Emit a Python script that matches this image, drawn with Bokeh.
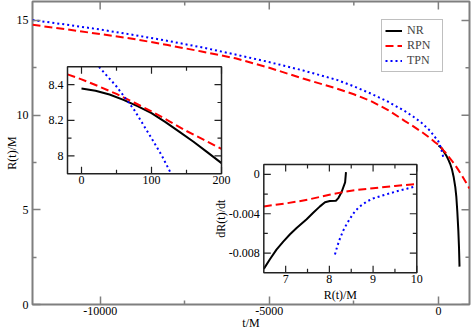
import numpy as np
from bokeh.plotting import figure
from bokeh.models import Range1d, FixedTicker, Legend, LegendItem
from bokeh.embed import file_html
from bokeh.resources import INLINE
from bokeh.core.properties import value

FONT = "Liberation Serif"
FS = "12px"

# ---------------- main panel: R(t)/M versus t/M ----------------
t_nr = [0, 20, 40, 60, 80, 100, 120, 140, 160, 180, 200, 250, 300, 350, 400,
        450, 500, 530, 560, 590, 610, 625]
r_nr = [8.378, 8.366, 8.345, 8.315, 8.28, 8.24, 8.19, 8.135, 8.08, 8.02, 7.96,
        7.81, 7.62, 7.42, 7.15, 6.75, 6.2, 5.7, 4.9, 3.9, 3.0, 2.0]

t_rpn = [-12000, -11000, -10000, -9000, -8000, -7000, -6000, -5000, -4000, -3000,
         -2500, -2000, -1500, -1000, -750, -500, -250, -100, -20, 0, 25, 50, 75,
         100, 125, 150, 175, 200, 300, 400, 500, 600, 700, 800, 920]
r_rpn = [14.77, 14.53, 14.28, 14.02, 13.7, 13.36, 13.0, 12.5, 11.93, 11.4,
         11.1, 10.75, 10.28, 9.7, 9.42, 9.12, 8.79, 8.57, 8.458, 8.43, 8.39, 8.348,
         8.30, 8.25, 8.196, 8.14, 8.09, 8.04, 7.82, 7.59, 7.35, 7.08, 6.8, 6.5, 6.12]

t_tpn = [-12000, -11000, -10000, -9000, -8000, -7000, -6000, -5000, -4000, -3000,
         -2500, -2000, -1500, -1000, -750, -500, -250, -100, 0, 25, 50, 75, 100,
         115, 128, 140]
r_tpn = [15.02, 14.78, 14.52, 14.23, 13.92, 13.58, 13.2, 12.8, 12.36, 11.86,
         11.52, 11.14, 10.72, 10.22, 9.93, 9.6, 9.18, 8.84, 8.61, 8.5, 8.39, 8.26,
         8.10, 8.0, 7.9, 7.8]

main_xrange = (-12000, 920)
main_yrange = (0, 16)
main_xticks = [-10000, -5000, 0]
main_xminor = [-7500, -2500]
main_xlabels = ["-10000", "-5000", "0"]
main_yticks = [0, 5, 10, 15]
main_yminor = [2.5, 7.5, 12.5]
main_ylabels = ["0", "5", "10", "15"]

# ---------------- inset 1: zoom of R(t)/M near merger ----------------
in1_xrange = (-20, 200)
in1_yrange = (7.9, 8.5)
in1_xticks = [0, 100, 200]
in1_xminor = [50, 150]
in1_xlabels = ["0", "100", "200"]
in1_yticks = [8.0, 8.2, 8.4]
in1_yminor = [8.1, 8.3]
in1_ylabels = ["8", "8.2", "8.4"]

# ---------------- inset 2: dR/dt versus R ----------------
R_nr_d = [6.5, 6.64, 6.79, 6.945, 7.10, 7.25, 7.48, 7.63, 7.785, 7.90, 8.01,
          8.15, 8.20, 8.28, 8.36, 8.38]
d_nr = [-0.0096, -0.00862, -0.00764, -0.00683, -0.00608, -0.00545, -0.00455,
        -0.0039, -0.00325, -0.00283, -0.0027, -0.00267, -0.00244, -0.00179,
        -0.00081, 0.00023]
R_rpn_d = [6.5, 7.0, 7.25, 7.5, 8.0, 8.25, 8.5, 9.0, 9.5, 10.0]
d_rpn = [-0.00325, -0.00295, -0.00277, -0.00257, -0.00207, -0.00185, -0.00165,
         -0.0014, -0.00117, -0.00098]
R_tpn_d = [8.128, 8.18, 8.243, 8.32, 8.396, 8.487, 8.586, 8.70, 8.853, 9.0,
           9.233, 9.54, 9.77, 9.98]
d_tpn = [-0.00813, -0.00732, -0.0065, -0.00569, -0.00504, -0.00439, -0.00374,
         -0.00325, -0.00276, -0.00244, -0.00212, -0.00172, -0.00146, -0.0012]

in2_xrange = (6.5, 10.0)
in2_yrange = (-0.01, 0.001)
in2_xticks = [7, 8, 9, 10]
in2_xminor = [7.5, 8.5, 9.5]
in2_xlabels = ["7", "8", "9", "10"]
in2_yticks = [0, -0.004, -0.008]
in2_yminor = [-0.002, -0.006]
in2_ylabels = ["0", "-0.004", "-0.008"]

# ---------------- layout ----------------
W, H = 471, 334
ML, MR, MT, MB = 32, 2, 1, 30
FW, FH = W - ML - MR, H - MT - MB

MAIN_C = "#7f7f7f"
INSET_C = "#222222"

STY_NR = dict(line_color="black", line_width=2)
STY_RPN = dict(line_color="#ff0000", line_width=2, line_dash="8 4")
STY_TPN = dict(line_color="#0000ff", line_width=2, line_dash="2 3")

p = figure(width=W, height=H, x_range=Range1d(*main_xrange),
           y_range=Range1d(*main_yrange), title=None,
           output_backend="svg", toolbar_location=None,
           min_border_left=ML, min_border_right=MR, min_border_top=MT,
           min_border_bottom=MB)
p.grid.visible = False
p.outline_line_color = MAIN_C
p.outline_line_width = 2
p.background_fill_color = "white"
p.border_fill_color = "white"


def style_axis(ax, ticks, minor, labels):
    ax.ticker = FixedTicker(ticks=ticks, minor_ticks=minor)
    ax.major_label_overrides = {t: l for t, l in zip(ticks, labels)}
    ax.axis_line_color = None
    ax.major_tick_in = 8
    ax.major_tick_out = 0
    ax.minor_tick_in = 4
    ax.minor_tick_out = 0
    ax.major_tick_line_color = MAIN_C
    ax.minor_tick_line_color = MAIN_C
    ax.major_tick_line_width = 1.5
    ax.minor_tick_line_width = 1.5
    ax.major_label_text_font = FONT
    ax.major_label_text_font_size = FS
    ax.major_label_text_color = "black"
    ax.major_label_text_line_height = 1.0
    ax.axis_label_text_font = FONT
    ax.axis_label_text_font_size = FS
    ax.axis_label_text_font_style = "normal"
    ax.axis_label_text_color = "black"
    ax.axis_label_text_line_height = 1.0


style_axis(p.xaxis[0], main_xticks, main_xminor, main_xlabels)
style_axis(p.yaxis[0], main_yticks, main_yminor, main_ylabels)
p.xaxis.axis_label = "t/M"
p.yaxis.axis_label = "R(t)/M"
p.xaxis.major_label_standoff = 2
p.xaxis.axis_label_standoff = -2
p.yaxis.major_label_standoff = 4
p.yaxis.axis_label_standoff = -5

# mirrored inward ticks on the top and right edges of the main frame
mpx = (main_xrange[1] - main_xrange[0]) / FW
mpy = (main_yrange[1] - main_yrange[0]) / FH
tx0, ty0, tx1, ty1 = [], [], [], []
for ticks, L in ((main_xticks, 8), (main_xminor, 4)):
    for x in ticks:
        tx0.append(x); tx1.append(x)
        ty0.append(main_yrange[1]); ty1.append(main_yrange[1] - L * mpy)
for ticks, L in ((main_yticks, 8), (main_yminor, 4)):
    for y in ticks:
        ty0.append(y); ty1.append(y)
        tx0.append(main_xrange[1]); tx1.append(main_xrange[1] - L * mpx)
p.segment(tx0, ty0, tx1, ty1, line_color=MAIN_C, line_width=1.5)

r1 = p.line(t_nr, r_nr, **STY_NR)
r2 = p.line(t_rpn, r_rpn, **STY_RPN)
r3 = p.line(t_tpn, r_tpn, **STY_TPN)


def add_inset(name, xr, yr, box, series, xt, xm, xl, yt, ym, yl,
              xlabel=None, ylabel=None):
    a, b = xr
    c, d = yr
    fx0, fx1, fy0, fy1 = box
    spanx = (b - a) / (fx1 - fx0)
    spany = (d - c) / (fy1 - fy0)
    xs0 = a - spanx * fx0
    ys0 = c - spany * fy0
    p.extra_x_ranges = {**p.extra_x_ranges, name: Range1d(xs0, xs0 + spanx)}
    p.extra_y_ranges = {**p.extra_y_ranges, name: Range1d(ys0, ys0 + spany)}
    px = spanx / FW
    py = spany / FH
    kw = dict(x_range_name=name, y_range_name=name)
    p.quad(left=[a], right=[b], bottom=[c], top=[d], fill_color="white",
           line_color=None, **kw)
    for xs, ys, sty in series:
        xs = np.asarray(xs, dtype=float)
        ys = np.asarray(ys, dtype=float)
        m = (xs >= a - 1e-9) & (xs <= b + 1e-9) & (ys >= c - 1e-9) & (ys <= d + 1e-9)
        p.line(xs[m], ys[m], **sty, **kw)
    p.quad(left=[a], right=[b], bottom=[c], top=[d], fill_color=None,
           line_color=INSET_C, line_width=1.5, **kw)
    x0s, y0s, x1s, y1s = [], [], [], []
    for ticks, L in ((xt, 7), (xm, 4)):
        for x in ticks:
            x0s += [x, x]
            x1s += [x, x]
            y0s += [c, d]
            y1s += [c + L * py, d - L * py]
    for ticks, L in ((yt, 7), (ym, 4)):
        for y in ticks:
            y0s += [y, y]
            y1s += [y, y]
            x0s += [a, b]
            x1s += [a + L * px, b - L * px]
    p.segment(x0s, y0s, x1s, y1s, line_color=INSET_C, line_width=1.2, **kw)
    p.text(x=xt, y=[c - 2 * py] * len(xt), text=xl, text_align="center",
           text_baseline="top", text_font=value(FONT), text_font_size=FS,
           text_color="black", **kw)
    p.text(x=[a - 4 * px] * len(yt), y=yt, text=yl, text_align="right",
           text_baseline="middle", text_font=value(FONT), text_font_size=FS,
           text_color="black", **kw)
    if xlabel:
        p.text(x=[(a + b) / 2], y=[c - 15 * py], text=[xlabel], text_align="center",
               text_baseline="top", text_font=value(FONT), text_font_size=FS,
               text_color="black", **kw)
    if ylabel:
        p.text(x=[a - 43 * px], y=[(c + d) / 2], text=[ylabel], angle=np.pi / 2,
               text_align="center", text_baseline="middle", text_font=value(FONT),
               text_font_size=FS, text_color="black", **kw)


add_inset("in1", in1_xrange, in1_yrange, (0.0801, 0.4325, 0.4314, 0.7843),
          [(t_nr, r_nr, STY_NR), (t_rpn, r_rpn, STY_RPN), (t_tpn, r_tpn, STY_TPN)],
          in1_xticks, in1_xminor, in1_xlabels, in1_yticks, in1_yminor, in1_ylabels)

add_inset("in2", in2_xrange, in2_yrange, (0.5293, 0.8794, 0.1046, 0.4618),
          [(R_nr_d, d_nr, STY_NR), (R_rpn_d, d_rpn, STY_RPN), (R_tpn_d, d_tpn, STY_TPN)],
          in2_xticks, in2_xminor, in2_xlabels, in2_yticks, in2_yminor, in2_ylabels,
          xlabel="R(t)/M", ylabel="dR(t)/dt")

LEG_W = 60
legend = Legend(items=[LegendItem(label="NR", renderers=[r1]),
                       LegendItem(label="RPN", renderers=[r2]),
                       LegendItem(label="TPN", renderers=[r3])],
                location=(FW - 28 - LEG_W, FH - 71),
                label_text_font=FONT, label_text_font_size=FS,
                label_height=11, glyph_height=11, glyph_width=17,
                label_standoff=5, label_width=32, spacing=0, padding=3, margin=0,
                border_line_color=MAIN_C, border_line_width=1.5,
                background_fill_color="white", background_fill_alpha=1.0)
p.add_layout(legend)

open("out.html", "w").write(file_html(p, INLINE))
